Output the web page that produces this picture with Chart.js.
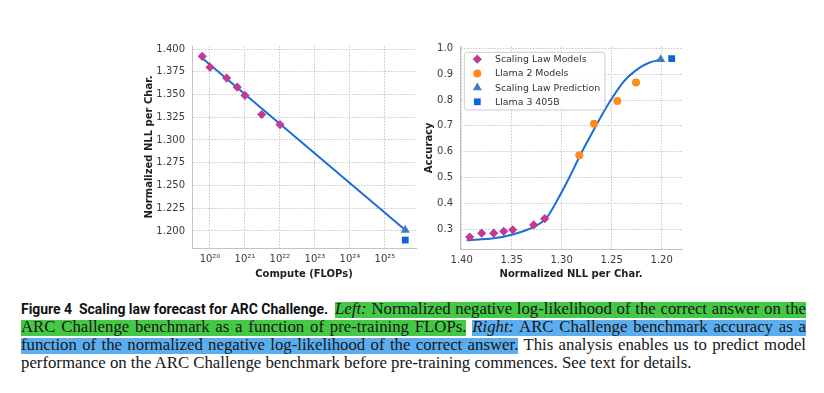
<!DOCTYPE html>
<html>
<head>
<meta charset="utf-8">
<title>Figure 4 - Scaling law forecast for ARC Challenge</title>
<script src="https://cdn.jsdelivr.net/npm/chart.js@4.4.1/dist/chart.umd.min.js"></script>
<style>
  html, body { margin: 0; padding: 0; background: #fff; }
  body { width: 824px; height: 393px; position: relative; overflow: hidden; }
  .plot { position: absolute; }
  #leftPlot { left: 130px; top: 40px; width: 300px; height: 250px; }
  #rightPlot { left: 410px; top: 40px; width: 290px; height: 250px; }
  .cap { position: absolute; left: 21px; white-space: nowrap; line-height: 18px;
         font-family: 'Liberation Serif', 'Times New Roman', serif; font-size: 16px; color: #161616; }
  .fig { display: inline-block; transform-origin: left center;
         font-family: Roboto, 'Liberation Sans', sans-serif; font-weight: 700; font-size: 14px; color: #111; }
  .hl-g { background: linear-gradient(to bottom, transparent 17%, #44c944 17%); }
  .hl-b { background: linear-gradient(to bottom, transparent 17%, #5aaef0 17%); }
</style>
</head>
<body>
<div class="plot" id="leftPlot"><canvas id="nllChart"></canvas></div>
<div class="plot" id="rightPlot"><canvas id="accChart"></canvas></div>

<div class="cap" id="cap1" style="top:300px"><span class="fig" id="figTitle">Figure 4&nbsp; Scaling law forecast for ARC Challenge.</span> <span class="hl-g" id="cap1Hl"><i>Left:</i> Normalized negative log-likelihood of the correct answer on the</span></div>
<div class="cap" id="cap2" style="top:318px"><span class="hl-g">ARC Challenge benchmark as a function of pre-training FLOPs.</span> <span class="hl-b"><i>Right:</i> ARC Challenge benchmark accuracy as a</span></div>
<div class="cap" id="cap3" style="top:336px"><span class="hl-b">function of the normalized negative log-likelihood of the correct answer.</span> This analysis enables us to predict model</div>
<div class="cap" id="cap4" style="top:354px">performance on the ARC Challenge benchmark before pre-training commences. See text for details.</div>

<script>
/* ---- left panel: NLL vs compute ---- */
const computeFlops = [6e19, 1e20, 3e20, 6e20, 1e21, 3e21, 1e22];
const nllPerChar = [1.392, 1.380, 1.368, 1.358, 1.349, 1.328, 1.317];
const predFlops = [3.8e25];
const predNll = [1.201];
const llama3Flops = [3.8e25];
const llama3Nll = [1.190];
const fitFlops = [5e19, 3.8e25];
const fitNll = [1.3925, 1.201];
const computeTickExps = [20, 21, 22, 23, 24, 25];
const nllTicks = [1.200, 1.225, 1.250, 1.275, 1.300, 1.325, 1.350, 1.375, 1.400];

/* ---- right panel: accuracy vs NLL ---- */
const scalingAcc = [0.270, 0.285, 0.285, 0.292, 0.298, 0.317, 0.341];
const llama2Nll = [1.2824, 1.2677, 1.2444, 1.2257];
const llama2Acc = [0.586, 0.708, 0.796, 0.868];
const predAcc = [0.957];
const llama3Acc = [0.960];
const sigmoidNll = [1.395, 1.368, 1.348, 1.328, 1.315, 1.302, 1.292, 1.283, 1.268, 1.255, 1.238, 1.222, 1.212, 1.201];
const sigmoidAcc = [0.258, 0.265, 0.281, 0.309, 0.345, 0.430, 0.503, 0.575, 0.684, 0.774, 0.871, 0.925, 0.945, 0.957];
const nllAxisTicks = [1.40, 1.35, 1.30, 1.25, 1.20];
const accTicks = [0.3, 0.4, 0.5, 0.6, 0.7, 0.8, 0.9, 1.0];

const COLORS = {
  diamond: '#c03a9a',
  llama2: '#ff8a1d',
  pred: '#3b7fc2',
  llama3: '#0f63e0',
  fit: '#1a6dd5',
  grid: '#c6c6c6',
  spine: '#c4c4c4',
};

const SUP = { 0: '⁰', 1: '¹', 2: '²', 3: '³', 4: '⁴', 5: '⁵', 6: '⁶', 7: '⁷', 8: '⁸', 9: '⁹' };
const sup = (n) => String(n).split('').map((c) => SUP[c]).join('');
const pts = (xs, ys) => xs.map((x, i) => ({ x, y: ys[i] }));

Chart.defaults.font.family = "'DejaVu Sans', sans-serif";
Chart.defaults.font.size = 10;
Chart.defaults.color = '#3c3c3c';
Chart.defaults.animation = false;
Chart.defaults.plugins.legend.display = false;
Chart.defaults.plugins.tooltip.enabled = false;

function fixedBox(size, isX) {
  return (s) => {
    if (isX) s.height = size; else s.width = size;
    s.paddingTop = s.paddingBottom = s.paddingLeft = s.paddingRight = 0;
  };
}

function axisCommon(title, titlePad) {
  return {
    grid: { color: COLORS.grid, lineWidth: 1, drawTicks: false },
    border: { color: COLORS.spine, width: 1, dash: [1.5, 1.5] },
    title: { display: true, text: title, color: '#1e1e1e', font: { weight: 'bold', size: 10 }, padding: titlePad },
  };
}

/* legend with a frame, drawn inside the plot like matplotlib's */
const frameLegend = {
  id: 'frameLegend',
  afterDraw(chart, args, o) {
    if (!o.show) return;
    const { ctx, chartArea } = chart;
    const items = chart.data.datasets.filter((d) => d.inLegend);
    const x0 = chartArea.left + o.dx, y0 = chartArea.top + o.dy;
    ctx.save();
    ctx.beginPath();
    ctx.roundRect(x0, y0, o.w, o.h, 3);
    ctx.fillStyle = 'rgba(255,255,255,0.85)';
    ctx.fill();
    ctx.strokeStyle = '#cccccc';
    ctx.lineWidth = 1;
    ctx.stroke();
    ctx.font = "9.4px 'DejaVu Sans', sans-serif";
    ctx.textBaseline = 'middle';
    items.forEach((d, i) => {
      const cy = y0 + o.firstRow + i * o.rowGap;
      drawMarker(ctx, d.pointStyle, x0 + o.markerX, cy, d.pointRadius, d.backgroundColor);
      ctx.fillStyle = '#333';
      ctx.fillText(d.label, x0 + o.textX, cy + 0.5);
    });
    ctx.restore();
  },
};

function drawMarker(ctx, style, x, y, r, color) {
  ctx.fillStyle = color;
  ctx.beginPath();
  if (style === 'circle') {
    ctx.arc(x, y, r, 0, Math.PI * 2);
  } else if (style === 'rectRot') {
    ctx.moveTo(x, y - r); ctx.lineTo(x + r, y); ctx.lineTo(x, y + r); ctx.lineTo(x - r, y);
  } else if (style === 'triangle') {
    ctx.moveTo(x, y - r); ctx.lineTo(x + 0.866 * r, y + 0.5 * r); ctx.lineTo(x - 0.866 * r, y + 0.5 * r);
  } else {
    const s = r * Math.SQRT1_2;
    ctx.rect(x - s, y - s, 2 * s, 2 * s);
  }
  ctx.closePath();
  ctx.fill();
}

Chart.register(frameLegend);

const markerSet = (label, style, r, color, data) => ({
  label, data, inLegend: true, pointStyle: style, pointRadius: r, pointHoverRadius: r,
  backgroundColor: color, borderColor: color, pointBorderWidth: 0, borderWidth: 0, order: 1,
});

/* ---- left chart ---- */
new Chart(document.getElementById('nllChart'), {
  type: 'scatter',
  data: {
    datasets: [
      markerSet('Scaling Law Models', 'rectRot', 4.6, COLORS.diamond, pts(computeFlops, nllPerChar)),
      markerSet('Scaling Law Prediction', 'triangle', 5.2, COLORS.pred, pts(predFlops, predNll)),
      markerSet('Llama 3 405B', 'rect', 4.8, COLORS.llama3, pts(llama3Flops, llama3Nll)),
      { label: 'fit', data: pts(fitFlops, fitNll), showLine: true, pointRadius: 0, borderColor: COLORS.fit, borderWidth: 2, order: 5 },
    ],
  },
  options: {
    responsive: true, maintainAspectRatio: false,
    layout: { padding: { top: 6, right: 14, left: 0, bottom: 0 } },
    plugins: { frameLegend: { show: false } },
    scales: {
      x: Object.assign(axisCommon('Compute (FLOPs)', { top: 0, bottom: 10 }), {
        type: 'logarithmic', min: 3.06e19, max: 7.7e25,
        afterBuildTicks: (s) => { s.ticks = computeTickExps.map((e) => ({ value: 10 ** e })); },
        afterFit: fixedBox(42, true),
        ticks: { padding: 5, maxRotation: 0, autoSkip: false, callback: (v) => '10' + sup(Math.round(Math.log10(v))) },
      }),
      y: Object.assign(axisCommon('Normalized NLL per Char.', { top: 13, bottom: 0 }), {
        min: 1.1813, max: 1.4033,
        afterBuildTicks: (s) => { s.ticks = nllTicks.map((v) => ({ value: v })); },
        afterFit: fixedBox(62, false),
        ticks: { padding: 7, callback: (v) => v.toFixed(3) },
      }),
    },
  },
});

/* ---- right chart ---- */
new Chart(document.getElementById('accChart'), {
  type: 'scatter',
  data: {
    datasets: [
      markerSet('Scaling Law Models', 'rectRot', 4.6, COLORS.diamond, pts(nllPerChar, scalingAcc)),
      markerSet('Llama 2 Models', 'circle', 4, COLORS.llama2, pts(llama2Nll, llama2Acc)),
      markerSet('Scaling Law Prediction', 'triangle', 5.2, COLORS.pred, pts(predNll, predAcc)),
      markerSet('Llama 3 405B', 'rect', 4.8, COLORS.llama3, pts(llama3Nll, llama3Acc)),
      { label: 'sigmoid fit', data: pts(sigmoidNll, sigmoidAcc), showLine: true, pointRadius: 0,
        cubicInterpolationMode: 'monotone', borderColor: COLORS.fit, borderWidth: 2, order: 5 },
    ],
  },
  options: {
    responsive: true, maintainAspectRatio: false,
    layout: { padding: { top: 6.7, right: 18, left: 0, bottom: 0 } },
    plugins: { frameLegend: { show: true, dx: 4.3, dy: 5.6, w: 140.7, h: 57.7, firstRow: 6.9, rowGap: 14.2, markerX: 13, textX: 30.7 } },
    scales: {
      x: Object.assign(axisCommon('Normalized NLL per Char.', { top: 0, bottom: 10 }), {
        type: 'linear', reverse: true, min: 1.1797, max: 1.4017,
        afterBuildTicks: (s) => { s.ticks = nllAxisTicks.map((v) => ({ value: v })); },
        afterFit: fixedBox(41, true),
        ticks: { padding: 5, maxRotation: 0, autoSkip: false, callback: (v) => v.toFixed(2) },
      }),
      y: Object.assign(axisCommon('Accuracy', { top: 13, bottom: 0 }), {
        min: 0.2238, max: 1.0062,
        afterBuildTicks: (s) => { s.ticks = accTicks.map((v) => ({ value: v })); },
        afterFit: fixedBox(50, false),
        ticks: { padding: 7, callback: (v) => v.toFixed(1) },
      }),
    },
  },
});

/* ---- caption: size the serif text and justify the lines ---- */
(function () {
  const caps = [...document.querySelectorAll('.cap')];
  const cap4 = document.getElementById('cap4');
  const fs = 16 * 671 / cap4.getBoundingClientRect().width;
  caps.forEach((c) => { c.style.fontSize = fs.toFixed(2) + 'px'; });

  const fig = document.getElementById('figTitle');
  const fw = fig.getBoundingClientRect().width;
  fig.style.transform = `scaleX(${(307 / fw).toFixed(4)})`;

  const hl = document.getElementById('cap1Hl');
  hl.style.marginLeft = (335 - hl.getBoundingClientRect().left).toFixed(1) + 'px';

  function stretch(el, width) {
    el.style.wordSpacing = '0px';
    const w = el.getBoundingClientRect().width;
    const n = (el.textContent.match(/ /g) || []).length;
    el.style.wordSpacing = ((width - w) / n).toFixed(3) + 'px';
  }
  stretch(hl, 806 - 335);
  stretch(document.getElementById('cap2'), 785);
  stretch(document.getElementById('cap3'), 785);
})();
</script>
</body>
</html>
